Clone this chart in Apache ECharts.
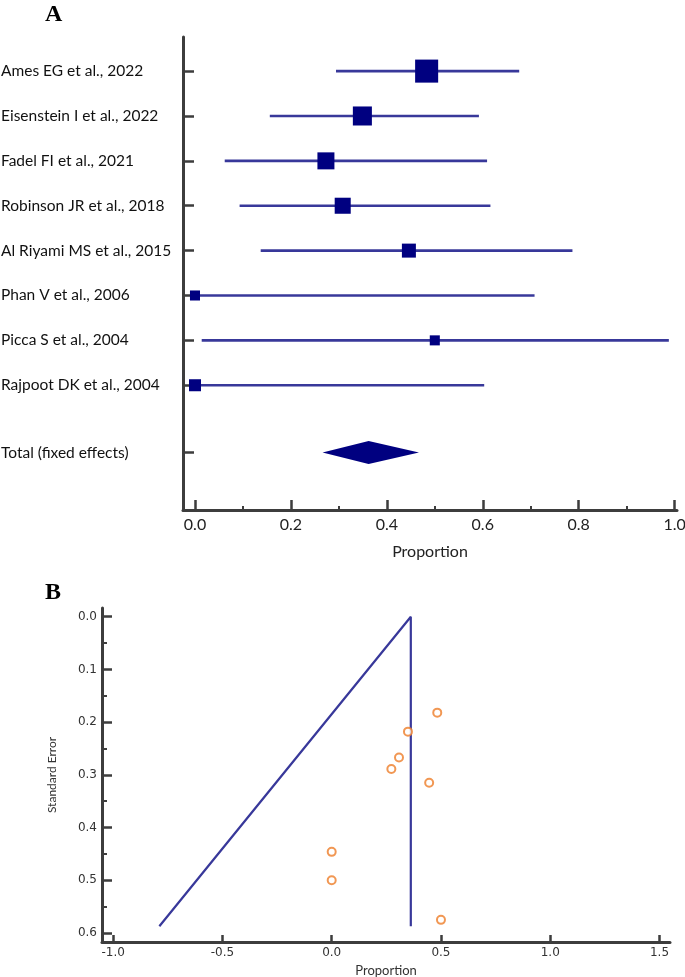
<!DOCTYPE html>
<html lang="en">
<head>
    <meta charset="UTF-8" />
    <title>Forest plot and funnel plot</title>
    <script src="https://cdn.jsdelivr.net/npm/echarts@6/dist/echarts.min.js"></script>
    <style>
        html, body { margin: 0; padding: 0; background: #fff; }
        #chart { width: 685px; height: 977px; }
    </style>
</head>
<body>
    <div id="chart"></div>

    <script>
        // study data
        let studies = [
            "Ames EG et al., 2022",
            "Eisenstein I et al., 2022",
            "Fadel FI et al., 2021",
            "Robinson JR et al., 2018",
            "Al Riyami MS et al., 2015",
            "Phan V et al., 2006",
            "Picca S et al., 2004",
            "Rajpoot DK et al., 2004",
        ];
        let proportion = [0.483, 0.349, 0.273, 0.308, 0.446, 0.0, 0.5, 0.0];
        let ciLow = [0.294, 0.156, 0.062, 0.093, 0.137, 0.0, 0.014, 0.0];
        let ciHigh = [0.676, 0.592, 0.609, 0.616, 0.787, 0.708, 0.988, 0.603];
        let weight = [26.8, 18.3, 14.6, 13.0, 9.9, 5.1, 5.1, 7.3];
        let stdError = [0.182, 0.218, 0.289, 0.267, 0.315, 0.5, 0.575, 0.446];

        let totalLabel = "Total (fixed effects)";
        let total = [0.266, 0.362, 0.467]; // low, pooled, high
        let funnelMaxSE = 0.587;

        // tick labels
        let forestTicks = [0, 0.2, 0.4, 0.6, 0.8, 1.0];
        let forestMinor = [0.1, 0.3, 0.5, 0.7, 0.9];
        let funnelXTicks = [-1.0, -0.5, 0, 0.5, 1.0, 1.5];
        let funnelYTicks = [0, 0.1, 0.2, 0.3, 0.4, 0.5, 0.6];
        let funnelYMinor = [0.05, 0.15, 0.25, 0.35, 0.45, 0.55];

        // row positions on panel A
        let rows = studies.map((s, i) => i + 1);
        let totalRow = studies.length + 1.5;

        let axisColor = "#3d3d3d";
        let lineBlue = "#38389a";
        let navy = "#000080";
        let fontA = "Lato, 'Open Sans', sans-serif";
        let fontB = "'DejaVu Sans', sans-serif";

        let myChart = echarts.init(document.getElementById("chart"), null, { renderer: "canvas" });

        let option = {
            animation: false,
            backgroundColor: "#fff",
            graphic: [
                { type: "text", left: 45, top: 3, style: { text: "A", font: "bold 24px 'Liberation Serif'", fill: "#000" } },
                { type: "text", left: 45, top: 581, style: { text: "B", font: "bold 24px 'Liberation Serif'", fill: "#000" } },
            ],
            grid: [
                { left: 183, right: 8, top: 37, bottom: 467, outerBoundsMode: "none" },
                { left: 102, right: 15, top: 608, bottom: 35, outerBoundsMode: "none" },
            ],
            xAxis: [
                {
                    gridIndex: 0, type: "value", position: "bottom",
                    min: -0.025, max: 1.005,
                    axisLine: { show: true, onZero: false, lineStyle: { color: axisColor, width: 3 } },
                    axisTick: { show: true, inside: true, length: 10, customValues: forestTicks, lineStyle: { color: axisColor, width: 2.5 } },
                    axisLabel: {
                        customValues: forestTicks, margin: 7,
                        formatter: v => v.toFixed(1),
                        fontFamily: fontA, fontSize: 16, color: "#222",
                    },
                    splitLine: { show: false },
                    name: "Proportion", nameLocation: "middle", nameGap: 34,
                    nameTextStyle: { fontFamily: fontA, fontSize: 16, color: "#222" },
                },
                {
                    gridIndex: 0, type: "value", position: "bottom",
                    min: -0.025, max: 1.005,
                    axisLine: { show: false, onZero: false },
                    axisTick: { show: true, inside: true, length: 4, customValues: forestMinor, lineStyle: { color: axisColor, width: 2 } },
                    axisLabel: { show: false },
                    splitLine: { show: false },
                },
                {
                    gridIndex: 1, type: "value", position: "bottom",
                    min: -1.051, max: 1.548,
                    axisLine: { show: true, onZero: false, lineStyle: { color: axisColor, width: 3 } },
                    axisTick: { show: true, inside: true, length: 7, customValues: funnelXTicks, lineStyle: { color: axisColor, width: 2.5 } },
                    axisLabel: {
                        customValues: funnelXTicks, margin: 5,
                        formatter: v => v.toFixed(1),
                        fontFamily: fontB, fontSize: 12, color: "#333",
                    },
                    splitLine: { show: false },
                    name: "Proportion", nameLocation: "middle", nameGap: 22,
                    nameTextStyle: { fontFamily: fontA, fontSize: 13, color: "#333" },
                },
            ],
            yAxis: [
                {
                    gridIndex: 0, type: "value", inverse: true,
                    min: 0.24, max: 10.78,
                    axisLine: { show: true, onZero: false, lineStyle: { color: axisColor, width: 3 } },
                    axisTick: { show: true, inside: true, length: 11, customValues: rows.concat([totalRow]), lineStyle: { color: axisColor, width: 2.5 } },
                    axisLabel: {
                        customValues: rows.concat([totalRow]),
                        align: "left", margin: 182,
                        formatter: v => (v === totalRow ? totalLabel : studies[Math.round(v) - 1]),
                        fontFamily: fontA, fontSize: 15.5, color: "#111",
                        padding: [0, 0, 3, 0],
                    },
                    splitLine: { show: false },
                },
                {
                    gridIndex: 1, type: "value", inverse: true,
                    min: -0.0165, max: 0.617,
                    axisLine: { show: true, onZero: false, lineStyle: { color: axisColor, width: 3 } },
                    axisTick: { show: true, inside: true, length: 10, customValues: funnelYTicks, lineStyle: { color: axisColor, width: 2.5 } },
                    axisLabel: {
                        customValues: funnelYTicks, margin: 5,
                        formatter: v => v.toFixed(1),
                        fontFamily: fontB, fontSize: 12, color: "#333",
                    },
                    splitLine: { show: false },
                    name: "Standard Error", nameLocation: "middle", nameGap: 44, nameRotate: 90,
                    nameTextStyle: { fontFamily: fontA, fontSize: 12, color: "#333" },
                },
                {
                    gridIndex: 1, type: "value", inverse: true, position: "left",
                    min: -0.0165, max: 0.617,
                    axisLine: { show: false, onZero: false },
                    axisTick: { show: true, inside: true, length: 5, customValues: funnelYMinor, lineStyle: { color: axisColor, width: 2 } },
                    axisLabel: { show: false },
                    splitLine: { show: false },
                },
            ],
            series: [
                {
                    // confidence intervals
                    type: "custom", xAxisIndex: 0, yAxisIndex: 0,
                    data: studies.map((s, i) => [ciLow[i], ciHigh[i], rows[i]]),
                    encode: { x: [0, 1], y: 2 },
                    renderItem: function (params, api) {
                        let a = api.coord([api.value(0), api.value(2)]);
                        let b = api.coord([api.value(1), api.value(2)]);
                        return {
                            type: "line",
                            shape: { x1: a[0], y1: a[1], x2: b[0], y2: b[1] },
                            style: { stroke: lineBlue, lineWidth: 2.6 },
                        };
                    },
                },
                {
                    // study estimates, square size from weight
                    type: "scatter", xAxisIndex: 0, yAxisIndex: 0,
                    symbol: "rect",
                    symbolSize: v => 4.45 * Math.sqrt(v[2]),
                    itemStyle: { color: navy, opacity: 1 },
                    data: studies.map((s, i) => [proportion[i], rows[i], weight[i]]),
                    z: 3,
                },
                {
                    // pooled estimate diamond
                    type: "custom", xAxisIndex: 0, yAxisIndex: 0,
                    data: [[total[0], total[1], total[2], totalRow]],
                    encode: { x: [0, 2], y: 3 },
                    renderItem: function (params, api) {
                        let lo = api.coord([api.value(0), api.value(3)]);
                        let mid = api.coord([api.value(1), api.value(3)]);
                        let hi = api.coord([api.value(2), api.value(3)]);
                        let h = 11.5;
                        return {
                            type: "polygon",
                            shape: { points: [[lo[0], lo[1]], [mid[0], mid[1] - h], [hi[0], hi[1]], [mid[0], mid[1] + h]] },
                            style: { fill: navy },
                        };
                    },
                },
                {
                    // funnel
                    type: "line", xAxisIndex: 2, yAxisIndex: 1,
                    data: [
                        [total[1] - 1.96 * funnelMaxSE, funnelMaxSE],
                        [total[1], 0],
                        [total[1], funnelMaxSE],
                    ],
                    symbol: "none",
                    lineStyle: { color: lineBlue, width: 2.2 },
                },
                {
                    type: "scatter", xAxisIndex: 2, yAxisIndex: 1,
                    symbol: "emptyCircle", symbolSize: 8,
                    itemStyle: { color: "#ee7d28", borderColor: "#ee7d28", borderWidth: 1.8 },
                    data: studies.map((s, i) => [proportion[i], stdError[i]]),
                    z: 3,
                },
            ],
        };

        myChart.setOption(option);
    </script>
</body>
</html>
